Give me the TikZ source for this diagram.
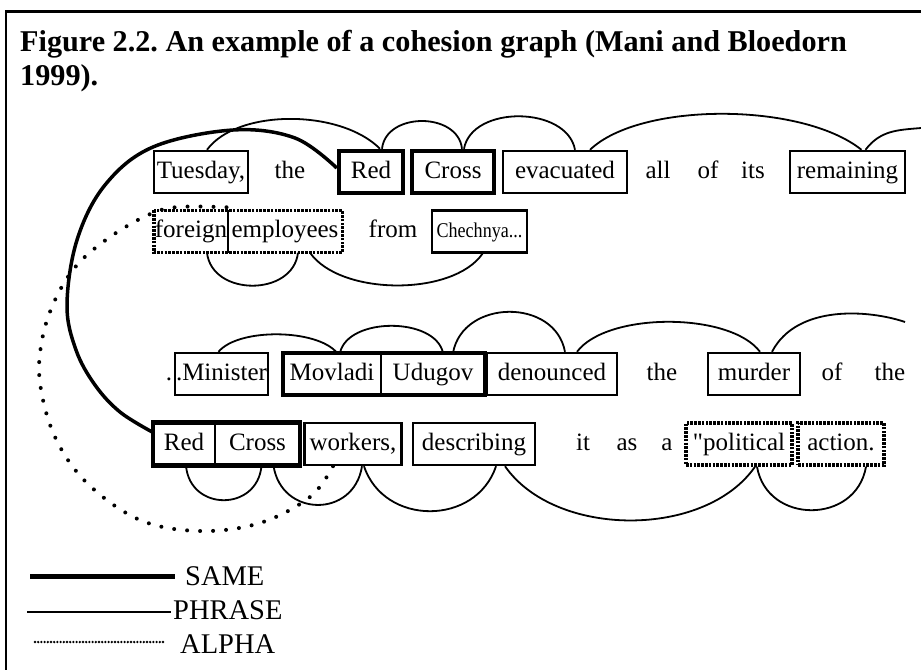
\documentclass[tikz,border=0pt]{standalone}
\usepackage{fontspec}
\usepackage{graphicx}
\setmainfont{Liberation Serif}
\newfontfamily\plainserif{Liberation Serif}
\newcommand{\wordfont}{\fontsize{25}{29}\selectfont}
\newcommand{\titlefont}{\fontsize{30.2}{35}\selectfont\bfseries}
\newcommand{\legfont}{\fontsize{28.5}{32}\selectfont}
\tikzset{
  wtext/.style={font=\wordfont, text height=17pt, text depth=5pt, inner sep=0pt},
  wbox/.style={wtext, draw, line width=2.4pt, minimum height=42pt},
  samebox/.style={wbox, line width=4.5pt},
  alphabox/.style={wbox, line width=3.4pt, dash pattern=on 2.6pt off 1.2pt},
  phrase/.style={line width=1.8pt},
  sameline/.style={line width=3.5pt},
  alphaline/.style={line width=4pt, line cap=round, dash pattern=on 0pt off 13pt},
  legtext/.style={font=\legfont, inner sep=0pt, anchor=base west},
}
\frenchspacing
\begin{document}
\frenchspacing
\begin{tikzpicture}[x=1pt,y=-1pt]
\useasboundingbox (0,0) rectangle (921,670);
% frame
\draw[line width=3pt] (5,11) -- (921,11);
\draw[line width=2.5pt] (6,11) -- (6,670);
% title
\node[anchor=base west, inner sep=0pt, font=\titlefont] (t1) at (20,51) {Figure 2.2. An example of a cohesion graph (Mani and Bloedorn};
\node[anchor=base west, inner sep=0pt, font=\titlefont] (t2) at (20,85) {1999).};

% row 1
\node[wbox, minimum width=94] (tue) at (201,172) {Tuesday,};
\node[wtext] (the1) at (290,172) {the};
\node[samebox, minimum width=64] (red1) at (371,172) {Red};
\node[samebox, minimum width=82] (cross1) at (453,172) {Cross};
\node[wbox, minimum width=124] (evac) at (565,172) {evacuated};
\node[wtext] (all) at (658,172) {all};
\node[wtext] (of1) at (708,172) {of};
\node[wtext] (its) at (753,172) {its};
\node[wbox, minimum width=115] (rem) at (847.5,172) {remaining};

% row 2
\node[wtext, minimum width=74, minimum height=42] (foreign) at (191,231.5) {foreign};
\node[wtext, minimum width=114, minimum height=42] (empl) at (285,231.5) {employees};
\draw[line width=3.4pt, dash pattern=on 2.6pt off 1.2pt] (foreign.north west) rectangle (empl.south east);
\draw[line width=2pt] (foreign.north east) -- (foreign.south east);
\node[wtext] (from) at (393,231.5) {from};
\node[wbox, minimum width=95] (chech) at (479.5,231.5) {\fontsize{21}{25}\selectfont\scalebox{0.86}[1]{Chechnya...}};

% row 3
\node[wtext] (dot) at (169,374) {.};
\node[wbox, minimum width=93] (mini) at (221.5,374) {.Minister};
\node[wtext, minimum width=98, minimum height=42] (movl) at (332,374) {Movladi};
\node[wtext, minimum width=104, minimum height=42] (udug) at (433,374) {Udugov};
\draw[line width=2.2pt] (movl.north east) -- (movl.south east);
\draw[line width=4.5pt] (movl.north west) rectangle (udug.south east);
\node[wbox, minimum width=130] (denou) at (552,374) {denounced};
\node[wtext] (the3) at (662,374) {the};
\node[wbox, minimum width=92] (murd) at (754,374) {murder};
\node[wtext] (of3) at (832,374) {of};
\node[wtext] (the4) at (890,374) {the};

% row 4
\node[wtext, minimum width=62, minimum height=43] (red4) at (184,444) {Red};
\node[wtext, minimum width=85, minimum height=43] (cross4) at (257.5,444) {Cross};
\draw[line width=2.5pt] (red4.north east) -- (red4.south east);
\draw[line width=4.5pt] (red4.north west) rectangle (cross4.south east);
\node[wbox, minimum width=97] (work) at (353,444) {workers,};
\node[wbox, minimum width=122] (descr) at (474,444) {describing};
\node[wtext] (it) at (583,444) {it};
\node[wtext] (as) at (627,444) {as};
\node[wtext] (a) at (667,444) {a};
\node[alphabox, minimum width=106] (polit) at (739,444) {{\plainserif"}political};
\node[alphabox, minimum width=86] (action) at (841,444) {action.};

% free ends
\coordinate (rfree) at (921,128);
\coordinate (mfree) at (905,322);

% PHRASE arcs row 1
\draw[phrase] ([xshift=6pt]tue.north) .. controls +(30,-41) and +(-40,-40) .. ([xshift=9pt]red1.north);
\draw[phrase] ([xshift=11pt]red1.north) .. controls +(4,-37) and +(-4,-37) .. ([xshift=9pt]cross1.north);
\draw[phrase] ([xshift=11pt]cross1.north) .. controls +(8,-44) and +(-8,-44) .. ([xshift=10pt]evac.north);
\draw[phrase] ([xshift=25pt]evac.north) .. controls +(50,-48) and +(-60,-48) .. ([xshift=14pt]rem.north);
\draw[phrase] ([xshift=18pt]rem.north) .. controls +(15,-20) and +(-22,2) .. (rfree);
% row 2
\draw[phrase] ([xshift=16pt]foreign.south) .. controls +(5,44) and +(-5,44) .. ([xshift=13pt]empl.south);
\draw[phrase] ([xshift=25pt]empl.south) .. controls +(30,43) and +(-30,43) .. ([xshift=3pt]chech.south);
% row 3
\draw[phrase] ([xshift=-3pt]mini.north) .. controls +(20,-24) and +(-20,-24) .. ([xshift=5pt]movl.north);
\draw[phrase] ([xshift=8pt]movl.north) .. controls +(8,-36) and +(-8,-36) .. ([xshift=10pt]udug.north);
\draw[phrase] ([xshift=20pt]udug.north) .. controls +(10,-54) and +(-10,-54) .. ([xshift=13pt]denou.north);
\draw[phrase] ([xshift=25pt]denou.north) .. controls +(30,-40) and +(-30,-40) .. ([xshift=6pt]murd.north);
\draw[phrase] ([xshift=18pt]murd.north) .. controls +(25,-48) and +(-35,-12) .. (mfree);
% row 4
\draw[phrase] ([xshift=2pt]red4.south) .. controls +(4,46) and +(-4,46) .. ([xshift=4pt]cross4.south);
\draw[phrase] ([xshift=16pt]cross4.south) .. controls +(8,52) and +(-8,52) .. ([xshift=9pt]work.south);
\draw[phrase] ([xshift=11pt]work.south) .. controls +(20,60) and +(-20,60) .. ([xshift=22pt]descr.south);
\draw[phrase] ([xshift=31pt]descr.south) .. controls +(50,72) and +(-50,72) .. ([xshift=16pt]polit.south);
\draw[phrase] ([xshift=18pt]polit.south) .. controls +(10,58) and +(-10,58) .. ([xshift=25pt]action.south);

% SAME curve
\draw[sameline] plot[smooth, tension=0.6] coordinates {([yshift=4pt]red1.west) (295,138) (233,130) (153,147) (105,185) (77,240) (67,305) (76,350) (95,385) (120,412) ([yshift=-10pt]red4.north west)};
% ALPHA curve
\draw[alphaline] plot[smooth, tension=0.6] coordinates {([xshift=-20pt]work.south) (310,497) (260,523) (200,531) (140,520) (87,483) (55,437) (40,383) (42,340) (55,300) (77,265) (110,237) (148,215) (178,207) ([yshift=3pt]empl.north west)};

% legend
\coordinate (ls0) at (30,576);
\coordinate (ls1) at (175,576);
\coordinate (lp0) at (27,612);
\coordinate (lp1) at (171,612);
\coordinate (la0) at (35,642);
\coordinate (la1) at (166,642);
\draw[line width=5pt] (ls0) -- (ls1);
\draw[line width=2pt] (lp0) -- (lp1);
\draw[line width=2.6pt, line cap=round, dash pattern=on 0pt off 3.2pt] (la0) -- (la1);
\node[legtext] (lsame) at (185,585) {SAME};
\node[legtext] (lphrase) at (173,619) {PHRASE};
\node[legtext] (lalpha) at (180,653) {ALPHA};
\end{tikzpicture}
\end{document}
